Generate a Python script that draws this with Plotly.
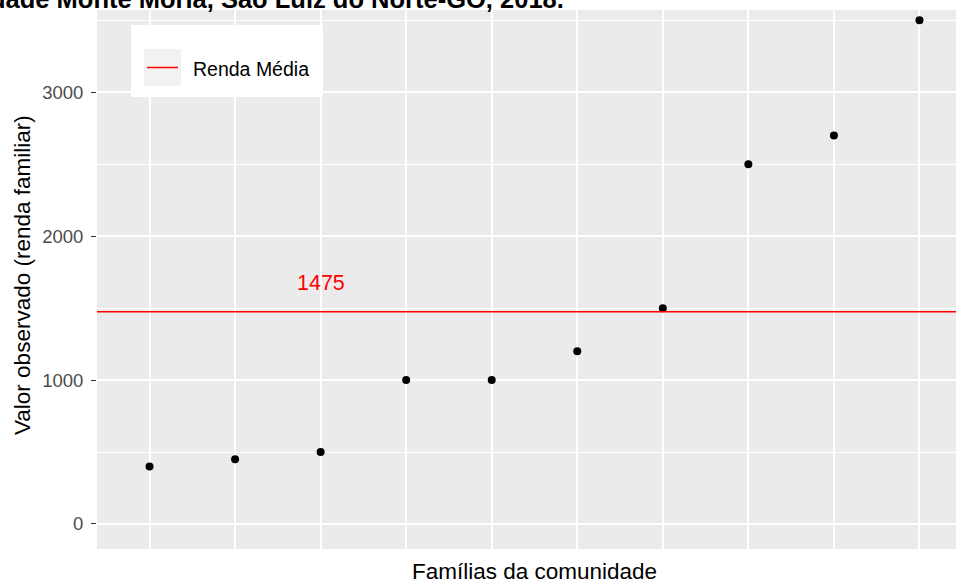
import numpy as np
import plotly.graph_objects as go

# ---- data ----
familias = list(range(1, 11))
renda = [400, 450, 500, 1000, 1000, 1200, 1500, 2500, 2700, 3500]
y_ticks = [0, 1000, 2000, 3000]
y_minor = [500, 1500, 2500, 3500]
titulo = "dade Monte Moria, São Luiz do Norte-GO, 2018."
x_title = "Famílias da comunidade"
y_title = "Valor observado (renda familiar)"
legend_label = "Renda Média"

media = float(np.mean(renda))

# ---- layout geometry (pixels) ----
W_PX, H_PX = 956, 583
L, R, T, B = 97, 956, 10, 549
PW, PH = R - L, B - T


def pxx(X):
    return (X - L) / PW


def pxy(Y):
    return (B - Y) / PH


FONT = "Liberation Sans, Arial, sans-serif"

fig = go.Figure()
fig.add_trace(go.Scatter(
    x=familias, y=renda, mode="markers",
    marker=dict(color="black", size=8),
    showlegend=False, hoverinfo="x+y",
))

fig.add_hline(y=media, line=dict(color="#ff0000", width=1.5))

fig.add_annotation(
    x=3, y=media + 200, xref="x", yref="y", text=f"{media:.0f}",
    showarrow=False, font=dict(family=FONT, size=21.5, color="#ff0000"),
    xanchor="center", yanchor="middle",
)

# manual legend (ggplot style)
fig.add_shape(type="rect", xref="paper", yref="paper",
              x0=pxx(131), x1=pxx(323), y0=pxy(97), y1=pxy(25),
              fillcolor="white", line=dict(width=0), layer="above")
fig.add_shape(type="rect", xref="paper", yref="paper",
              x0=pxx(144), x1=pxx(181), y0=pxy(86), y1=pxy(49),
              fillcolor="#f2f2f2", line=dict(width=0), layer="above")
fig.add_shape(type="line", xref="paper", yref="paper",
              x0=pxx(147), x1=pxx(178), y0=pxy(67.5), y1=pxy(67.5),
              line=dict(color="#ff0000", width=1.5), layer="above")
fig.add_annotation(
    x=pxx(191), y=pxy(69), xref="paper", yref="paper", text=legend_label,
    showarrow=False, font=dict(family=FONT, size=19.5, color="black"),
    xanchor="left", yanchor="middle",
)

# axis titles
fig.add_annotation(
    x=5.5, y=0, xref="x", yref="paper", text=x_title, showarrow=False,
    font=dict(family=FONT, size=22.5, color="black"),
    xanchor="center", yanchor="middle", yshift=-22,
)
fig.add_annotation(
    x=pxx(22), y=pxy(275), xref="paper", yref="paper", text=y_title,
    showarrow=False, textangle=-90,
    font=dict(family=FONT, size=22.5, color="black"),
    xanchor="center", yanchor="middle",
)

# cut-off title at the very top
fig.add_annotation(
    x=pxx(566), y=pxy(15), xref="paper", yref="paper", text=f"<b>{titulo}</b>",
    showarrow=False, font=dict(family=FONT, size=25.5, color="black"),
    xanchor="right", yanchor="bottom",
)

fig.update_layout(
    width=W_PX, height=H_PX,
    margin=dict(l=L, r=W_PX - R, t=T, b=H_PX - B),
    paper_bgcolor="white", plot_bgcolor="#ebebeb",
    showlegend=False,
    font=dict(family=FONT),
)
fig.update_xaxes(
    range=[0.386, 10.427], tickvals=familias, ticktext=[""] * len(familias),
    showticklabels=False, ticks="", showgrid=True, gridcolor="white",
    gridwidth=1.6, zeroline=False, showline=False,
)
fig.update_yaxes(
    range=[-174, 3572], tickvals=y_ticks, ticktext=[str(v) for v in y_ticks],
    ticks="outside", ticklen=5, tickwidth=1, tickcolor="#333333",
    tickfont=dict(family=FONT, size=18.5, color="#4d4d4d"),
    ticklabelstandoff=4,
    showgrid=True, gridcolor="white", gridwidth=1.6, zeroline=False, showline=False,
    minor=dict(tickvals=y_minor, showgrid=True, gridcolor="white", gridwidth=0.8, ticks=""),
)

fig.write_html(
    "out.html",
    config={"displayModeBar": False},
    post_script="document.body.style.margin='0';document.body.style.overflow='hidden';",
)
